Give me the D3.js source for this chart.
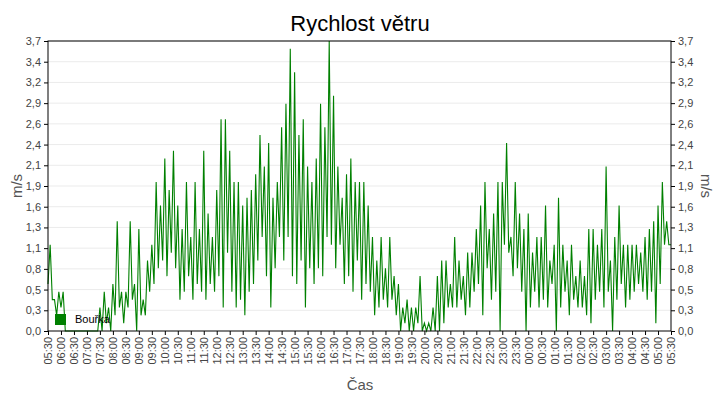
<!DOCTYPE html>
<html><head><meta charset="utf-8">
<script src="https://cdn.jsdelivr.net/npm/d3@7"></script>
<style>body{margin:0;background:#fff}svg{font-family:"Liberation Sans",Arial,sans-serif}</style>
</head><body><svg id="c" width="720" height="400"></svg>
<script>
const title = "Rychlost větru";
const seriesName = "Bouřka";
const yMax = 3.7;
const stepMinutes = 5;
const xTickLabels = ["05:30","06:00","06:30","07:00","07:30","08:00","08:30","09:00","09:30","10:00","10:30","11:00","11:30","12:00","12:30","13:00","13:30","14:00","14:30","15:00","15:30","16:00","16:30","17:00","17:30","18:00","18:30","19:00","19:30","20:00","20:30","21:00","21:30","22:00","22:30","23:00","23:30","00:00","00:30","01:00","01:30","02:00","02:30","03:00","03:30","04:00","04:30","05:00","05:30"];
const windSpeed = [
0.6,1.1,0.4,0.4,0.2,0.5, 0.3,0.5,0.0,0,0,0, 0,0,0,0,0,0, 0,0,0,0,0,0,
0.3,0,0.5,0.1,0.3,0, 0.6,0.2,1.4,0.3,0.5,0.1, 0.5,0.3,1.4,0.4,0.6,0, 1.3,0.2,0.4,0.2,0.9,0.5,
1.1,0.6,1.9,0.8,1.6,0.9, 2.2,0.7,1.8,1.0,2.3,0.8, 1.6,0.4,1.3,0.5,1.9,0.7, 1.2,0.4,1.9,0.6,1.3,0.5,
2.3,0.4,1.5,0.6,1.2,0.5, 1.8,0.7,2.7,0.3,2.7,1.0, 2.3,0.5,1.9,0.3,1.9,0.4, 1.6,0.2,1.7,0.5,1.8,0.6,
2.0,0.9,2.5,1.2,2.1,0.7, 2.4,0.3,1.7,0.8,1.9,1.2, 2.6,0.9,2.9,1.2,3.6,0.7, 3.3,0.6,2.5,0.9,2.7,0.3,
2.1,0.8,1.9,0.6,2.2,0.8, 2.9,0.7,2.6,1.2,3.7,1.1, 3.0,0.8,2.1,1.1,1.7,0.6, 2.0,0.7,2.2,0.5,1.9,0.9,
1.9,0.4,1.9,0.6,1.6,0.5, 1.2,0.2,0.9,0.3,1.2,0.4, 0.8,0.3,1.2,0.4,0.7,0.2, 0.6,0.0,0.3,0.1,0.4,0.0,
0.3,0.0,0.3,0.1,0.7,0.0, 0.1,0,0.1,0,0.3,0, 0.7,0,0.9,0.1,0.9,0.3, 0.6,0.3,1.2,0.3,0.9,0.4,
0.7,0.2,1.0,0.3,1.0,0.5, 1.3,0.6,1.6,0.2,1.9,0.8, 1.3,0.4,1.5,0.5,1.9,0.0, 1.9,1.1,2.4,1.0,1.2,0.7,
1.9,0.8,1.5,0.5,1.3,0.0, 1.5,0.3,1.0,0.5,1.2,0.3, 1.2,0.4,1.6,0.3,0.9,0.6, 1.1,0,1.7,0.3,1.1,0.5,
0.9,0.2,1.1,0.4,0.7,0.3, 0.9,0.3,0.7,0.2,1.3,0.1, 1.3,0.4,1.1,0.5,1.3,0.3, 2.1,0.5,0.9,0.0,1.2,0.4,
1.6,0.6,1.1,0.3,1.1,0.4, 1.1,0.5,1.1,0.6,1.0,0.5, 1.2,0.4,1.3,0.5,1.4,0.1, 1.6,0.6,1.9,1.1,1.4,1.1,
1.1];

const svg = d3.select("#c");
const L=48, R=671, T=41, B=331;
const x = d3.scaleLinear().domain([0,(xTickLabels.length-1)*30]).range([L,R]);
const y = d3.scaleLinear().domain([0,yMax]).range([B,T]);
const yTicks = d3.range(15).map(i=>i*yMax/14);
const fmt = v=>d3.format(".1f")(v).replace(".",",");

svg.append("g").selectAll("line").data(yTicks.slice(1)).join("line")
 .attr("x1",L).attr("x2",R).attr("y1",d=>y(d)).attr("y2",d=>y(d)).attr("stroke","#ebebeb");

const yl = svg.append("g").attr("transform",`translate(${L},0)`).call(d3.axisLeft(y).tickValues(yTicks).tickFormat(fmt).tickSize(4));
const yr = svg.append("g").attr("transform",`translate(${R},0)`).call(d3.axisRight(y).tickValues(yTicks).tickFormat(fmt).tickSize(4));
const xa = svg.append("g").attr("transform",`translate(0,${B})`).call(d3.axisBottom(x).tickValues(xTickLabels.map((_,i)=>i*30)).tickFormat((d,i)=>xTickLabels[i]).tickSize(4));
xa.selectAll("text").attr("transform","rotate(-90)").attr("text-anchor","end").attr("x",-6).attr("y",0).attr("dy","0.35em");
[yl,yr,xa].forEach(g=>{g.select(".domain").remove();g.selectAll("text").attr("font-size",11).attr("fill","#444").attr("font-family","Liberation Sans, Arial");g.selectAll("line").attr("stroke","#000");});

const line = d3.line().x((d,i)=>x(i*stepMinutes)).y(d=>y(d)).curve(d3.curveLinear);
svg.append("path").datum(windSpeed).attr("d",line).attr("fill","none").attr("stroke","#008000").attr("stroke-width",1.1).attr("stroke-linejoin","miter");

svg.append("rect").attr("x",L).attr("y",T).attr("width",R-L).attr("height",B-T).attr("fill","none").attr("stroke","#000");

svg.append("rect").attr("x",55).attr("y",314).attr("width",11).attr("height",11).attr("fill","#008000");
svg.append("text").attr("x",75).attr("y",323).attr("font-size",11).text(seriesName);

svg.append("text").attr("x",360).attr("y",31).attr("text-anchor","middle").attr("font-size",22).text(title);
svg.append("text").attr("x",360).attr("y",390).attr("text-anchor","middle").attr("font-size",15).attr("fill","#555").text("Čas");
svg.append("text").attr("transform","translate(22,186) rotate(-90)").attr("text-anchor","middle").attr("font-size",15).attr("fill","#555").text("m/s");
svg.append("text").attr("transform","translate(701,186) rotate(90)").attr("text-anchor","middle").attr("font-size",15).attr("fill","#555").text("m/s");
</script></body></html>
